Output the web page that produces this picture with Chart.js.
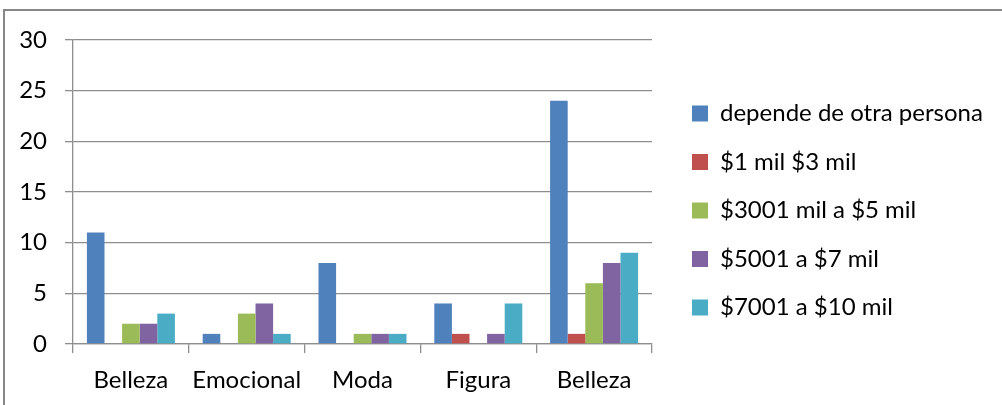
<!DOCTYPE html>
<html>
<head>
<meta charset="utf-8">
<script src="https://cdn.jsdelivr.net/npm/chart.js@4/dist/chart.umd.min.js"></script>
<style>
  html, body { margin: 0; padding: 0; background: #ffffff; overflow: hidden; }
  #frame { position: absolute; left: 3px; top: 9px; width: 1100px; height: 500px;
           border-left: 2px solid #878787; border-top: 2px solid #878787; }
  #wrap { position: absolute; left: 0; top: 0; width: 1002px; height: 405px; }
</style>
</head>
<body>
<div id="frame"></div>
<div id="wrap"><canvas id="c" width="1002" height="405"></canvas></div>
<script>
const categories = ["Belleza", "Emocional", "Moda", "Figura", "Belleza"];
const seriesNames = ["depende de otra persona", "$1 mil $3 mil", "$3001 mil a $5 mil", "$5001 a $7 mil", "$7001 a $10 mil"];
const dependeValues = [11, 1, 8, 4, 24];
const mil1a3Values = [0, 0, 0, 1, 1];
const mil3a5Values = [2, 3, 1, 0, 6];
const mil5a7Values = [2, 4, 1, 1, 8];
const mil7a10Values = [3, 1, 1, 4, 9];
const yTicks = [0, 5, 10, 15, 20, 25, 30];

const colors = ["#4F81BD", "#C0504D", "#9BBB59", "#8064A2", "#4BACC6"];
const allValues = [dependeValues, mil1a3Values, mil3a5Values, mil5a7Values, mil7a10Values];
const gridColor = "#8e8e8e";
const fontFamily = "Lato, 'Open Sans', sans-serif";
const fontSize = 24;

// layout targets (pixels)
const plotRight = 652;
const legendBoxX = 692;
const legendShiftY = -12;

const datasets = seriesNames.map((name, i) => ({
  label: name,
  data: allValues[i],
  backgroundColor: colors[i],
  borderWidth: 0,
  categoryPercentage: 0.76,
  barPercentage: 1.0
}));

const legendPlace = {
  id: "legendPlace",
  afterLayout(chart) {
    const l = chart.legend;
    const pad = chart.options.plugins.legend.labels.padding;
    const w = l.width;
    l.left = legendBoxX - pad;
    l.right = l.left + w;
    l.top += legendShiftY;
    l.bottom += legendShiftY;
  }
};

new Chart(document.getElementById("c"), {
  type: "bar",
  data: { labels: categories, datasets },
  plugins: [legendPlace],
  options: {
    responsive: false,
    animation: false,
    devicePixelRatio: 1,
    layout: { padding: { top: 40, left: 0, right: 0, bottom: 0 } },
    plugins: {
      tooltip: { enabled: false },
      legend: {
        position: "right",
        align: "center",
        maxWidth: 500,
        labels: {
          boxWidth: 16,
          boxHeight: 16,
          padding: 24.5,
          color: "#000000",
          font: { family: fontFamily, size: fontSize }
        }
      }
    },
    scales: {
      x: {
        grid: { offset: true, drawOnChartArea: false, drawTicks: true, tickLength: 9, color: gridColor, lineWidth: 1.3 },
        border: { display: true, color: gridColor, width: 1.3 },
        ticks: { color: "#000000", padding: 13, font: { family: fontFamily, size: fontSize }, maxRotation: 0 },
        afterFit: (s) => { s.height = 61; }
      },
      y: {
        min: 0,
        max: 30,
        afterBuildTicks: (s) => { s.ticks = yTicks.map(v => ({ value: v })); },
        grid: { color: gridColor, lineWidth: 1.3, drawTicks: true, tickLength: 8 },
        border: { display: true, color: gridColor, width: 1.3 },
        ticks: { color: "#000000", padding: 18, font: { family: fontFamily, size: fontSize } },
        afterFit: (s) => { s.width = 73; }
      },
      spacer: {
        type: "linear",
        position: "right",
        display: true,
        grid: { display: false },
        border: { display: false },
        ticks: { display: false },
        afterFit: (s) => { s.width = Math.max(0, 1002 - plotRight - s.chart.legend.width); }
      }
    }
  }
});
</script>
</body>
</html>
